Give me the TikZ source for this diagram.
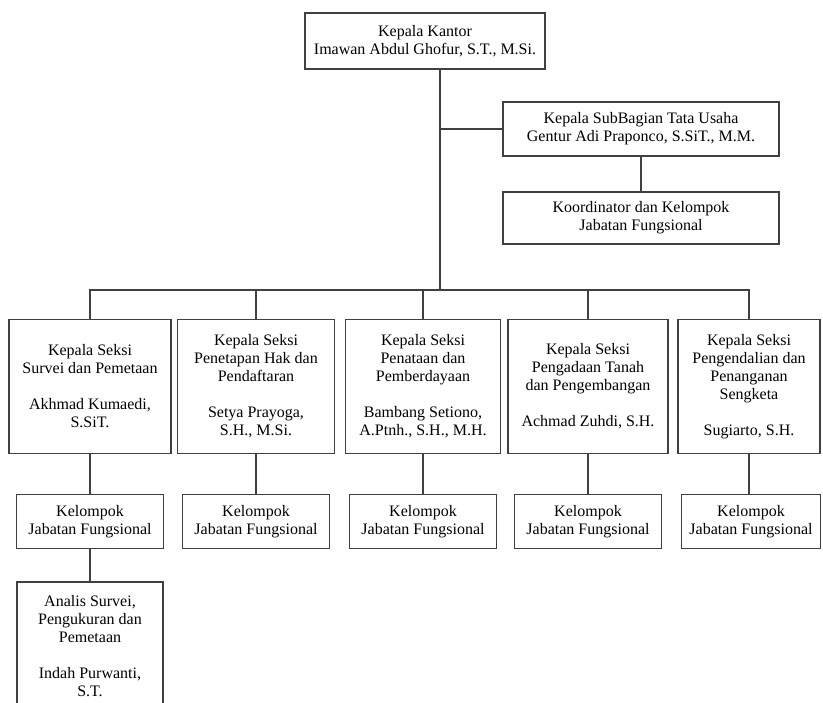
\documentclass[tikz,border=0pt]{standalone}
\usepackage{fontspec}
\setmainfont{Liberation Serif}
\usetikzlibrary{positioning}

\begin{document}
\begin{tikzpicture}[
  orgbox/.style  = {draw=black!75, line width=0.9pt, align=center, inner sep=2pt, font=\fontsize{12}{13.5}\selectfont},
  kelbox/.style  = {orgbox, minimum width=110pt, minimum height=40pt},
  kasibox/.style = {orgbox, minimum height=100pt},
  orglink/.style = {draw=black!75, line width=0.9pt},
  x=0.75pt, y=-0.75pt,
]
  \useasboundingbox (0,0) rectangle (823,702);
  \clip (0,0) rectangle (823,702);

  \node[orgbox, minimum width=180pt, minimum height=42pt] (kakantor) at (425,41) {Kepala Kantor\\Imawan Abdul Ghofur, S.T., M.Si.};
  \node[orgbox, minimum width=207pt, minimum height=40.5pt] (kasubbag) at (641,129) {Kepala SubBagian Tata Usaha\\Gentur Adi Praponco, S.SiT., M.M.};
  \node[orgbox, minimum width=207pt, minimum height=39pt] (koordinator) at (641,218) {Koordinator dan Kelompok\\Jabatan Fungsional};
  \coordinate (trunk) at (440,290);

  \node[kasibox, minimum width=121.5pt] (kasi1) at (90,386.5) {Kepala Seksi\\Survei dan Pemetaan\\[13.5pt]Akhmad Kumaedi,\\S.SiT.};
  \node[kasibox, minimum width=117.5pt] (kasi2) at (256,386.5) {Kepala Seksi\\Penetapan Hak dan\\Pendaftaran\\[13.5pt]Setya Prayoga,\\S.H., M.Si.};
  \node[kasibox, minimum width=116pt] (kasi3) at (423,386.5) {Kepala Seksi\\Penataan dan\\Pemberdayaan\\[13.5pt]Bambang Setiono,\\A.Ptnh., S.H., M.H.};
  \node[kasibox, minimum width=120pt] (kasi4) at (588,386.5) {Kepala Seksi\\Pengadaan Tanah\\dan Pengembangan\\[13.5pt]Achmad Zuhdi, S.H.};
  \node[kasibox, minimum width=106.5pt] (kasi5) at (749,386.5) {Kepala Seksi\\Pengendalian dan\\Penanganan\\Sengketa\\[13.5pt]Sugiarto, S.H.};

  \node[kelbox] (kel1) at (90,521.5) {Kelompok\\Jabatan Fungsional};
  \node[kelbox] (kel2) at (256,521.5) {Kelompok\\Jabatan Fungsional};
  \node[kelbox] (kel3) at (423,521.5) {Kelompok\\Jabatan Fungsional};
  \node[kelbox] (kel4) at (588,521.5) {Kelompok\\Jabatan Fungsional};
  \node[kelbox, minimum width=104pt] (kel5) at (751,521.5) {Kelompok\\Jabatan Fungsional};

  \node[orgbox, minimum width=109.5pt, minimum height=96pt] (analis) at (90,646) {Analis Survei,\\Pengukuran dan\\Pemetaan\\[13.5pt]Indah Purwanti,\\S.T.};

  % garis komando
  \draw[orglink] (kakantor.south -| trunk) -- (trunk);
  \draw[orglink] (kasubbag.west) -- (kasubbag.west -| trunk);
  \draw[orglink] (kasubbag.south) -- (koordinator.north);
  \draw[orglink] (kasi1.north) |- (trunk) -| (kasi5.north);
  \draw[orglink] (kasi2.north) -- (kasi2.north |- trunk);
  \draw[orglink] (kasi3.north) -- (kasi3.north |- trunk);
  \draw[orglink] (kasi4.north) -- (kasi4.north |- trunk);
  \draw[orglink] (kasi1.south) -- (kel1.north);
  \draw[orglink] (kasi2.south) -- (kel2.north);
  \draw[orglink] (kasi3.south) -- (kel3.north);
  \draw[orglink] (kasi4.south) -- (kel4.north);
  \draw[orglink] (kasi5.south) -- (kasi5.south |- kel5.north);
  \draw[orglink] (kel1.south) -- (analis.north);
\end{tikzpicture}
\end{document}
